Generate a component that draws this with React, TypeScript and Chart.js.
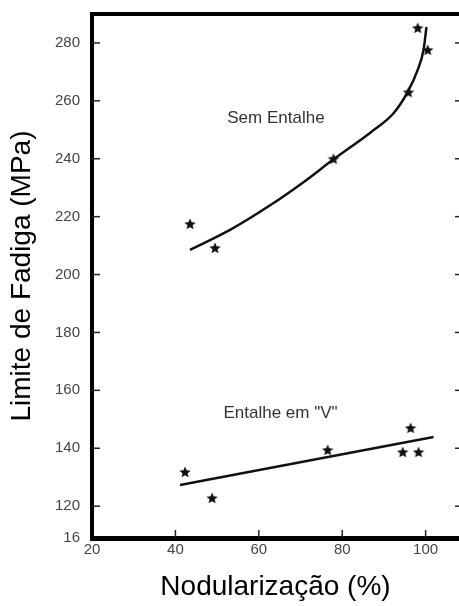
import React, { useEffect, useRef } from "react";
import { Chart, registerables } from "chart.js";

Chart.register(...registerables);

// ---- data ----
const xTicks = [20, 40, 60, 80, 100];
const yTicks = [109, 120, 140, 160, 180, 200, 220, 240, 260, 280];
const yTickLabelOverride: Record<number, string> = { 109: "16" };

const semEntalheX = [43.5, 49.5, 77.9, 95.9, 98.1, 100.5];
const semEntalheY = [217.5, 209.2, 240.0, 263.0, 285.2, 277.6];

const semCurveX = [43.5, 53.2, 62.8, 70.7, 77.9, 86.8, 92.3, 95.7, 98.1, 99.5, 100.2];
const semCurveY = [208.5, 215.5, 224.0, 231.9, 239.8, 249.1, 255.7, 263.1, 270.7, 277.6, 285.5];

const vEntalheX = [42.3, 48.8, 76.5, 96.4, 94.5, 98.3];
const vEntalheY = [131.8, 122.8, 139.4, 147.0, 138.7, 138.7];

const vLineX = [41.1, 101.9];
const vLineY = [127.3, 143.9];

const annotations = [
  { text: "Sem Entalhe", x: 64.1, y: 254.1 },
  { text: 'Entalhe em "V"', x: 65.2, y: 152.2 },
];

const xTitle = "Nodularização (%)";
const yTitle = "Limite de Fadiga (MPa)";

const zip = (xs: number[], ys: number[]) => xs.map((x, i) => ({ x, y: ys[i] }));

function makeStar(size: number, color: string) {
  const c = document.createElement("canvas");
  c.width = size;
  c.height = size;
  const ctx = c.getContext("2d")!;
  const cx = size / 2, cy = size / 2 + 0.5;
  const R = size / 2, r = R * 0.45;
  ctx.beginPath();
  for (let i = 0; i < 10; i++) {
    const rad = i % 2 === 0 ? R : r;
    const a = -Math.PI / 2 + (i * Math.PI) / 5;
    const px = cx + rad * Math.cos(a);
    const py = cy + rad * Math.sin(a);
    if (i === 0) ctx.moveTo(px, py);
    else ctx.lineTo(px, py);
  }
  ctx.closePath();
  ctx.fillStyle = color;
  ctx.fill();
  return c;
}

const framePlugin = {
  id: "framePlugin",
  afterDraw(chart: any) {
    const { ctx, chartArea } = chart;
    const xs = chart.scales.x;
    const ys = chart.scales.y;
    ctx.save();
    ctx.strokeStyle = "#000";
    // top border
    ctx.lineWidth = 4;
    ctx.beginPath();
    ctx.moveTo(chartArea.left - 2, chartArea.top);
    ctx.lineTo(chart.width, chartArea.top);
    ctx.stroke();
    // inward tick marks
    ctx.lineWidth = 1.5;
    ctx.strokeStyle = "#222";
    ys.ticks.forEach((t: any) => {
      if (t.value <= ys.min) return;
      const py = ys.getPixelForValue(t.value);
      ctx.beginPath();
      ctx.moveTo(chartArea.left, py);
      ctx.lineTo(chartArea.left + 8, py);
      ctx.stroke();
      ctx.beginPath();
      ctx.moveTo(chartArea.right, py);
      ctx.lineTo(chartArea.right - 4, py);
      ctx.stroke();
    });
    xs.ticks.forEach((t: any) => {
      if (t.value <= xs.min) return;
      const px = xs.getPixelForValue(t.value);
      ctx.beginPath();
      ctx.moveTo(px, chartArea.bottom);
      ctx.lineTo(px, chartArea.bottom - 8);
      ctx.stroke();
    });
    // annotations
    ctx.fillStyle = "#333";
    ctx.font = "17px 'Liberation Sans', Arial, sans-serif";
    ctx.textAlign = "center";
    ctx.textBaseline = "middle";
    annotations.forEach((a) => {
      ctx.fillText(a.text, xs.getPixelForValue(a.x), ys.getPixelForValue(a.y));
    });
    ctx.restore();
  },
};

export default function App() {
  const ref = useRef<HTMLCanvasElement>(null);

  useEffect(() => {
    if (!ref.current) return;
    const star = makeStar(12, "#111");
    const chart = new Chart(ref.current, {
      type: "scatter",
      data: {
        datasets: [
          {
            label: "Sem Entalhe",
            data: zip(semEntalheX, semEntalheY),
            pointStyle: star as any,
            pointRadius: 6,
            showLine: false,
          },
          {
            label: "Sem Entalhe curve",
            data: zip(semCurveX, semCurveY),
            showLine: true,
            pointRadius: 0,
            borderColor: "#111",
            borderWidth: 2.5,
            cubicInterpolationMode: "monotone",
          } as any,
          {
            label: "Entalhe em V",
            data: zip(vEntalheX, vEntalheY),
            pointStyle: star as any,
            pointRadius: 6,
            showLine: false,
          },
          {
            label: "Entalhe em V line",
            data: zip(vLineX, vLineY),
            showLine: true,
            pointRadius: 0,
            borderColor: "#111",
            borderWidth: 2.5,
          },
        ],
      },
      options: {
        animation: false,
        responsive: false,
        maintainAspectRatio: false,
        layout: { autoPadding: false, padding: { top: 14, right: 0, left: 0, bottom: 0 } },
        plugins: { legend: { display: false }, tooltip: { enabled: false } },
        scales: {
          x: {
            type: "linear",
            min: 20,
            max: 108,
            afterBuildTicks: (axis: any) => {
              axis.ticks = xTicks.map((v) => ({ value: v }));
            },
            afterFit: (scale: any) => {
              scale.height = 68;
              scale.paddingLeft = 0;
              scale.paddingRight = 0;
            },
            grid: { display: false, drawTicks: false },
            border: { display: true, color: "#000", width: 5 },
            ticks: {
              color: "#444",
              font: { family: "'Liberation Sans', Arial, sans-serif", size: 15 },
              padding: 3,
              maxRotation: 0,
              autoSkip: false,
            },
            title: {
              display: true,
              text: xTitle,
              color: "#000",
              font: { family: "'Liberation Sans', Arial, sans-serif", size: 28 },
              padding: { top: 0, bottom: 2 },
            },
          },
          y: {
            type: "linear",
            min: 109,
            max: 290,
            afterBuildTicks: (axis: any) => {
              axis.ticks = yTicks.map((v) => ({ value: v }));
            },
            afterFit: (scale: any) => {
              scale.width = 92;
              scale.paddingTop = 0;
              scale.paddingBottom = 0;
            },
            grid: { display: false, drawTicks: false },
            border: { display: true, color: "#000", width: 4 },
            ticks: {
              color: "#444",
              font: { family: "'Liberation Sans', Arial, sans-serif", size: 15 },
              padding: 12,
              autoSkip: false,
              callback: (v: any) => (yTickLabelOverride[v] ?? String(v)),
            },
            title: {
              display: true,
              text: yTitle,
              color: "#000",
              font: { family: "'Liberation Sans', Arial, sans-serif", size: 28 },
              padding: { top: 5, bottom: 0 },
            },
          },
        },
      },
      plugins: [framePlugin],
    });
    return () => chart.destroy();
  }, []);

  return (
    <div style={{ position: "absolute", left: 0, top: 0, width: 459, height: 606, background: "#fff" }}>
      <canvas ref={ref} width={459} height={606} style={{ width: 459, height: 606 }} />
    </div>
  );
}
